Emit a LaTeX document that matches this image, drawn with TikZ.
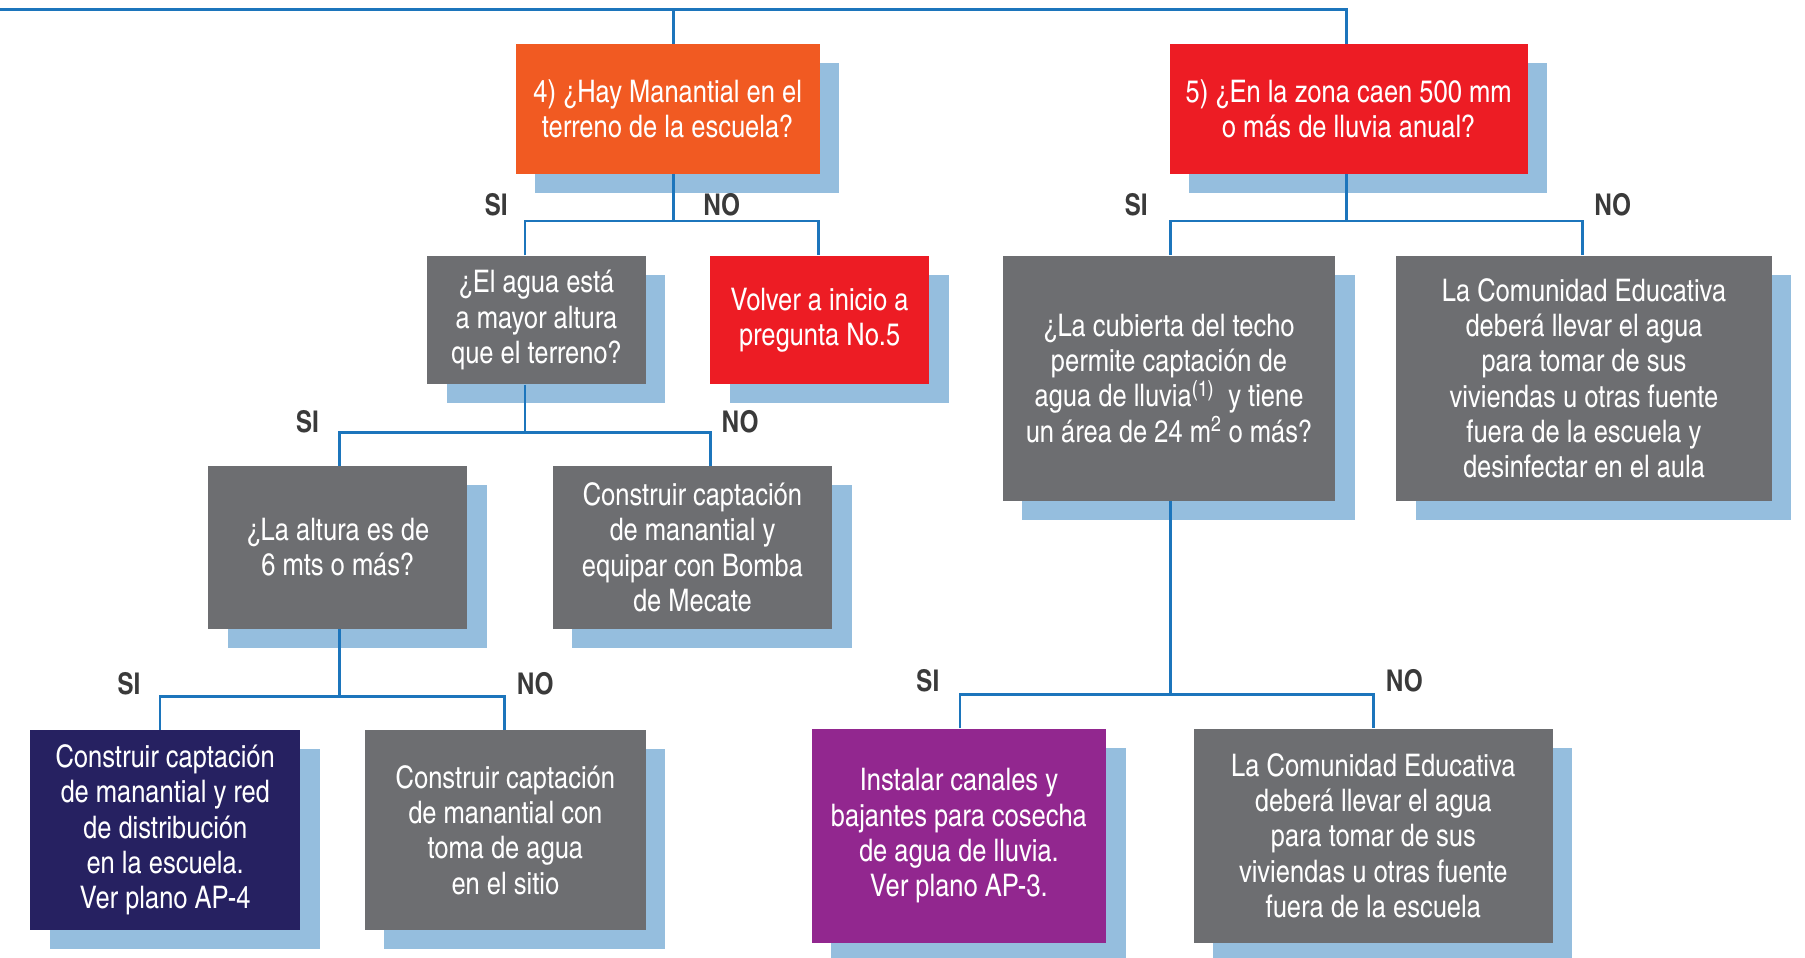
\documentclass[tikz,border=0pt]{standalone}
\usepackage{fontspec}
\setmainfont{texgyreheroscn}[Extension=.otf,UprightFont=*-regular,BoldFont=*-bold]
\usetikzlibrary{shadows}
\definecolor{orng}{HTML}{F15A22}
\definecolor{redb}{HTML}{ED1C24}
\definecolor{grayb}{HTML}{6D6E71}
\definecolor{navyb}{HTML}{262161}
\definecolor{purpb}{HTML}{92278F}
\definecolor{shblue}{HTML}{95BEDE}
\definecolor{lineb}{HTML}{1C75BC}
\definecolor{lbl}{HTML}{3A3A3A}
\tikzset{
  box/.style={rectangle, inner sep=0pt, align=center, text=white,
    font=\fontsize{27}{30.7}\selectfont,
    execute at begin node={\rule{0pt}{26pt}},
    drop shadow={shadow xshift=17pt, shadow yshift=-16.5pt, fill=shblue, opacity=1}},
  conn/.style={draw=lineb, line width=2.4pt},
  yn/.style={text=lbl, font=\fontsize{26}{28}\selectfont\bfseries, inner sep=0pt},
}
\begin{document}
\begin{tikzpicture}[x=1pt,y=-1pt]
\useasboundingbox (0,0) rectangle (1568,832);
% boxes
\node[box, fill=orng, minimum width=264pt, minimum height=113pt] (b4) at (580,94.5)
  {4) ¿Hay Manantial en el\\terreno de la escuela?};
\node[box, fill=redb, minimum width=311pt, minimum height=113pt] (b5) at (1171.5,94.5)
  {5) ¿En la zona caen 500 mm\\o más de lluvia anual?};
\node[box, fill=grayb, minimum width=190pt, minimum height=112pt] (agua) at (466,278)
  {¿El agua está\\a mayor altura\\que el terreno?};
\node[box, fill=redb, minimum width=190pt, minimum height=112pt] (volver) at (712,278)
  {Volver a inicio a\\pregunta No.5};
\node[box, fill=grayb, minimum width=225pt, minimum height=141pt] (altura) at (293.5,475.5)
  {¿La altura es de\\6 mts o más?};
\node[box, fill=grayb, minimum width=243pt, minimum height=141pt] (bomba) at (601.5,475.5)
  {Construir captación\\de manantial y\\equipar con Bomba\\de Mecate};
\node[box, fill=navyb, minimum width=235pt, minimum height=174pt] (redd) at (143.5,721)
  {Construir captación\\de manantial y red\\de distribución\\en la escuela.\\Ver plano AP-4};
\node[box, fill=grayb, minimum width=244pt, minimum height=174pt] (toma) at (439,721)
  {Construir captación\\de manantial con\\toma de agua\\en el sitio};
\node[box, fill=grayb, minimum width=289pt, minimum height=213pt] (cubierta) at (1015.5,328.5)
  {¿La cubierta del techo\\permite captación de\\agua de lluvia\textsuperscript{(1)}\ \ y tiene\\un área de 24 m\textsuperscript{2} o más?};
\node[box, fill=grayb, minimum width=326pt, minimum height=213pt] (comu1) at (1376,328.5)
  {La Comunidad Educativa\\deberá llevar el agua\\para tomar de sus\\viviendas u otras fuente\\fuera de la escuela y\\desinfectar en el aula};
\node[box, fill=purpb, minimum width=256pt, minimum height=186pt] (canales) at (833,726)
  {Instalar canales y\\bajantes para cosecha\\de agua de lluvia.\\Ver plano AP-3.};
\node[box, fill=grayb, minimum width=312pt, minimum height=186pt] (comu2) at (1193,726)
  {La Comunidad Educativa\\deberá llevar el agua\\para tomar de sus\\viviendas u otras fuente\\fuera de la escuela};
% SI / NO labels
\node[yn] (si1) at (431,178) {SI};
\node[yn] (no1) at (627,178) {NO};
\node[yn] (si2) at (267,366) {SI};
\node[yn] (no2) at (643,366) {NO};
\node[yn] (si3) at (112,594) {SI};
\node[yn] (no3) at (465,594) {NO};
\node[yn] (si4) at (987,178) {SI};
\node[yn] (no4) at (1401,178) {NO};
\node[yn] (si5) at (806,591) {SI};
\node[yn] (no5) at (1220,591) {NO};
% top line
\coordinate (tl) at (0,8);
\coordinate (t4) at (585,8);
\coordinate (t5) at (1170,8);
\draw[conn] (tl) -- (t5) -- (b5.north -| t5);
\draw[conn] (t4) -- (b4.north -| t4);
% level: b4
\coordinate (j4) at (585,192);
\coordinate (j4l) at (456,192);
\coordinate (j4r) at (711,192);
\draw[conn] (b4.south -| j4) -- (j4);
\draw[conn] (agua.north -| j4l) -- (j4l) -- (j4r) -- (volver.north -| j4r);
% level: agua
\coordinate (ja) at (456,376);
\coordinate (jal) at (295,376);
\coordinate (jar) at (617,376);
\draw[conn] (agua.south -| ja) -- (ja);
\draw[conn] (altura.north -| jal) -- (jal) -- (jar) -- (bomba.north -| jar);
% level: altura
\coordinate (jh) at (295,605);
\coordinate (jhl) at (139,605);
\coordinate (jhr) at (438,605);
\draw[conn] (altura.south -| jh) -- (jh);
\draw[conn] (redd.north -| jhl) -- (jhl) -- (jhr) -- (toma.north -| jhr);
% level: b5
\coordinate (j5) at (1170,192);
\coordinate (j5l) at (1017,192);
\coordinate (j5r) at (1375,192);
\draw[conn] (b5.south -| j5) -- (j5);
\draw[conn] (cubierta.north -| j5l) -- (j5l) -- (j5r) -- (comu1.north -| j5r);
% level: cubierta
\coordinate (jc) at (1017,603);
\coordinate (jcl) at (834,603);
\coordinate (jcr) at (1193,603);
\draw[conn] (cubierta.south -| jc) -- (jc);
\draw[conn] (canales.north -| jcl) -- (jcl) -- (jcr) -- (comu2.north -| jcr);
\end{tikzpicture}
\end{document}
